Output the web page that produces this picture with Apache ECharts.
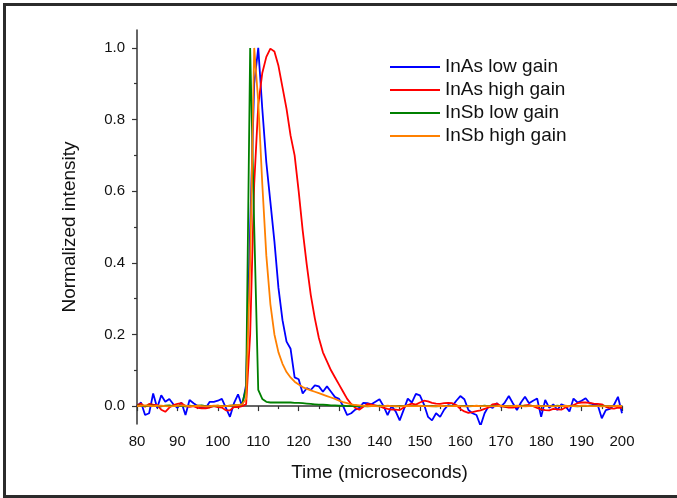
<!DOCTYPE html>
<html lang="en">
<head>
    <meta charset="UTF-8">
    <title>Normalized intensity</title>
    <script src="https://cdn.jsdelivr.net/npm/echarts@6/dist/echarts.min.js"></script>
    <style>
        * { margin: 0; padding: 0; }
        body { background: #fff; }
        #chart { width: 677px; height: 498px; }
    </style>
</head>
<body>
    <div id="chart"></div>
    <script>
        // time axis, microseconds (one sample per us)
        const times = [
            80, 81, 82, 83, 84, 85, 86, 87, 88, 89, 90, 91, 92, 93, 94, 95, 96, 97, 98, 99,
            100, 101, 102, 103, 104, 105, 106, 107, 108, 109, 110, 111, 112, 113, 114, 115, 116, 117, 118, 119,
            120, 121, 122, 123, 124, 125, 126, 127, 128, 129, 130, 131, 132, 133, 134, 135, 136, 137, 138, 139,
            140, 141, 142, 143, 144, 145, 146, 147, 148, 149, 150, 151, 152, 153, 154, 155, 156, 157, 158, 159,
            160, 161, 162, 163, 164, 165, 166, 167, 168, 169, 170, 171, 172, 173, 174, 175, 176, 177, 178, 179,
            180, 181, 182, 183, 184, 185, 186, 187, 188, 189, 190, 191, 192, 193, 194, 195, 196, 197, 198, 199,
            200
        ];

        const seriesNames = ['InAs low gain', 'InAs high gain', 'InSb low gain', 'InSb high gain'];

        const inasLow = [
            0.000, 0.010, -0.025, -0.020, 0.035, -0.005, 0.030, 0.012, 0.020, 0.005,
            -0.005, 0.010, -0.025, 0.017, 0.008, 0.000, -0.005, -0.005, 0.012, 0.012,
            0.015, 0.020, -0.005, -0.030, 0.008, 0.033, 0.000, 0.060, 0.500, 0.900,
            1.000, 0.830, 0.680, 0.570, 0.460, 0.330, 0.240, 0.180, 0.160, 0.080,
            0.075, 0.035, 0.050, 0.045, 0.058, 0.055, 0.040, 0.055, 0.040, 0.025,
            0.020, 0.000, -0.025, -0.020, -0.010, -0.005, 0.009, 0.008, 0.005, 0.012,
            0.019, 0.000, -0.025, 0.000, -0.015, -0.040, -0.010, 0.021, 0.010, 0.034,
            0.030, 0.005, -0.030, -0.040, -0.020, -0.030, -0.010, 0.003, 0.000, 0.015,
            0.028, 0.019, -0.011, -0.020, -0.025, -0.055, -0.020, 0.000, -0.005, 0.008,
            -0.002, 0.010, 0.028, 0.008, -0.011, 0.010, 0.026, 0.008, 0.015, 0.021,
            -0.030, 0.017, -0.005, 0.005, -0.011, 0.005, 0.000, -0.015, 0.021, 0.010,
            0.015, 0.022, 0.008, 0.005, 0.003, -0.034, -0.011, -0.008, 0.003, 0.026,
            -0.020
        ];

        const inasHigh = [
            0.003, 0.007, -0.002, 0.006, 0.004, 0.003, -0.010, -0.016, -0.004, 0.003,
            0.006, 0.008, 0.000, -0.002, 0.000, -0.005, -0.006, -0.006, -0.004, 0.000,
            -0.003, -0.004, -0.012, -0.012, -0.002, -0.003, 0.000, 0.005, 0.200, 0.620,
            0.840, 0.930, 0.975, 0.998, 0.990, 0.950, 0.890, 0.830, 0.755, 0.700,
            0.600, 0.490, 0.395, 0.310, 0.245, 0.190, 0.150, 0.125, 0.100, 0.080,
            0.060, 0.040, 0.020, 0.006, -0.005, -0.010, -0.002, 0.006, 0.004, 0.002,
            0.000, -0.005, -0.008, -0.010, -0.010, -0.011, -0.004, 0.003, 0.007, 0.004,
            0.010, 0.015, 0.013, 0.009, 0.007, 0.006, 0.008, 0.009, 0.008, 0.003,
            -0.008, -0.015, -0.019, -0.017, -0.014, -0.012, -0.008, -0.004, 0.005, 0.007,
            0.000, -0.002, -0.004, -0.004, -0.002, 0.000, 0.002, 0.003, 0.000, -0.005,
            -0.009, -0.011, -0.012, -0.008, -0.009, -0.010, -0.004, 0.000, 0.003, 0.008,
            0.010, 0.010, 0.009, 0.007, 0.006, 0.005, -0.002, -0.006, -0.007, -0.004,
            -0.005
        ];

        const insbLow = [
            0.002, 0.001, 0.000, 0.002, 0.001, 0.000, -0.001, 0.001, 0.002, 0.000,
            0.001, 0.000, -0.001, 0.001, 0.000, 0.001, 0.002, 0.000, -0.001, 0.000,
            0.001, 0.000, 0.000, 0.001, 0.002, 0.003, 0.005, 0.050, 1.000, 0.500,
            0.045, 0.020, 0.012, 0.010, 0.010, 0.010, 0.010, 0.010, 0.010, 0.009,
            0.009, 0.008, 0.007, 0.006, 0.005, 0.004, 0.004, 0.003, 0.002, 0.002,
            0.001, 0.001, 0.000, 0.000, 0.001, 0.000, 0.000, -0.001, 0.000, 0.000,
            0.001, 0.000, 0.000, 0.000, -0.001, 0.000, 0.000, 0.001, 0.000, 0.000,
            0.000, 0.001, 0.000, 0.000, -0.001, 0.000, 0.000, 0.000, 0.001, 0.000,
            0.000, 0.000, -0.001, 0.000, 0.000, 0.000, 0.001, 0.000, 0.000, 0.000,
            0.000, -0.001, 0.000, 0.000, 0.000, 0.001, 0.000, 0.000, 0.000, 0.000,
            -0.001, 0.000, 0.000, 0.000, 0.001, 0.000, 0.000, 0.000, 0.000, -0.001,
            0.000, 0.000, 0.001, 0.000, 0.000, 0.000, 0.000, -0.001, 0.000, 0.000,
            0.000
        ];

        const insbHigh = [
            0.000, 0.001, 0.002, 0.001, 0.000, 0.001, 0.001, 0.000, -0.001, 0.000,
            0.001, 0.002, 0.001, 0.000, 0.000, 0.001, 0.000, -0.001, 0.000, 0.001,
            0.001, 0.000, 0.000, 0.001, 0.002, 0.003, 0.005, 0.020, 0.400, 1.000,
            0.850, 0.620, 0.420, 0.285, 0.200, 0.150, 0.118, 0.095, 0.080, 0.068,
            0.060, 0.053, 0.048, 0.044, 0.040, 0.036, 0.032, 0.028, 0.024, 0.020,
            0.015, 0.011, 0.008, 0.005, 0.003, 0.002, 0.001, 0.000, 0.001, 0.000,
            -0.001, 0.000, 0.001, 0.000, 0.000, -0.001, 0.000, 0.001, 0.000, 0.000,
            0.001, 0.000, 0.000, -0.001, 0.000, 0.001, 0.000, 0.000, 0.000, 0.001,
            0.000, -0.001, 0.000, 0.000, 0.001, 0.000, 0.000, 0.000, -0.001, 0.000,
            0.001, 0.000, 0.000, 0.000, 0.001, 0.000, -0.001, 0.000, 0.000, 0.001,
            0.000, 0.000, 0.000, -0.001, 0.000, 0.000, 0.001, 0.000, 0.000, 0.000,
            0.001, 0.001, 0.000, 0.000, 0.000, -0.001, 0.000, 0.000, 0.000, 0.001,
            0.000
        ];

        const colors = ['#0000ff', '#ff0000', '#008000', '#ff8000'];

        // axis ticks
        const yMajorTicks = [0, 0.2, 0.4, 0.6, 0.8, 1.0];
        const yMinorTicks = [0.1, 0.3, 0.5, 0.7, 0.9];

        const font = '"Liberation Sans", Arial, sans-serif';
        const axisColor = '#333';
        const frameColor = '#2b2b2b';

        function pairs(values) {
            return times.map(function (t, i) { return [t, values[i]]; });
        }

        const allValues = [inasLow, inasHigh, insbLow, insbHigh];

        const chart = echarts.init(document.getElementById('chart'), null, { renderer: 'canvas' });
        chart.setOption({
            animation: false,
            backgroundColor: '#fff',
            textStyle: { fontFamily: font },
            grid: { left: 137, right: 55, top: 30, bottom: 74 },
            // outer frame: top, left and bottom edges only
            graphic: [
                { type: 'line', silent: true, shape: { x1: 3, y1: 4.5, x2: 677, y2: 4.5 }, style: { stroke: frameColor, lineWidth: 3 } },
                { type: 'line', silent: true, shape: { x1: 4.5, y1: 3, x2: 4.5, y2: 498 }, style: { stroke: frameColor, lineWidth: 3 } },
                { type: 'line', silent: true, shape: { x1: 3, y1: 496.5, x2: 677, y2: 496.5 }, style: { stroke: frameColor, lineWidth: 3 } }
            ],
            legend: {
                data: seriesNames,
                orient: 'vertical',
                left: 390,
                top: 57,
                padding: 0,
                icon: 'rect',
                itemWidth: 50,
                itemHeight: 2,
                itemGap: 3,
                textStyle: { fontFamily: font, fontSize: 19, color: '#111', lineHeight: 20, height: 20 }
            },
            xAxis: {
                type: 'value',
                min: 80,
                max: 200,
                interval: 10,
                name: 'Time (microseconds)',
                nameLocation: 'middle',
                nameGap: 39,
                nameTextStyle: { fontFamily: font, fontSize: 19, color: '#111' },
                axisLine: { lineStyle: { color: axisColor, width: 1.5 } },
                axisTick: { length: 5, lineStyle: { color: axisColor, width: 1.2 } },
                minorTick: { show: true, splitNumber: 2, length: 3, lineStyle: { color: axisColor, width: 1.2 } },
                axisLabel: { fontFamily: font, fontSize: 15, color: '#111', margin: 10 },
                splitLine: { show: false },
                minorSplitLine: { show: false }
            },
            yAxis: [{
                type: 'value',
                min: -0.05,
                max: 1.05,
                name: 'Normalized intensity',
                nameLocation: 'middle',
                nameGap: 58,
                nameTextStyle: { fontFamily: font, fontSize: 19, color: '#111' },
                axisLine: { show: true, lineStyle: { color: axisColor, width: 1.5 } },
                axisTick: { show: true, length: 5, customValues: yMajorTicks, lineStyle: { color: axisColor, width: 1.2 } },
                axisLabel: {
                    fontFamily: font, fontSize: 15, color: '#111', margin: 12,
                    customValues: yMajorTicks,
                    formatter: function (v) { return v.toFixed(1); }
                },
                splitLine: { show: false }
            }, {
                // minor ticks only
                type: 'value',
                position: 'left',
                min: -0.05,
                max: 1.05,
                axisLine: { show: false },
                axisTick: { show: true, length: 3, customValues: yMinorTicks, lineStyle: { color: axisColor, width: 1.2 } },
                axisLabel: { show: false, customValues: yMinorTicks },
                splitLine: { show: false }
            }],
            series: seriesNames.map(function (name, i) {
                return {
                    name: name,
                    type: 'line',
                    data: pairs(allValues[i]),
                    showSymbol: false,
                    symbol: 'none',
                    lineStyle: { color: colors[i], width: 1.8 },
                    itemStyle: { color: colors[i] }
                };
            })
        });
    </script>
</body>
</html>
